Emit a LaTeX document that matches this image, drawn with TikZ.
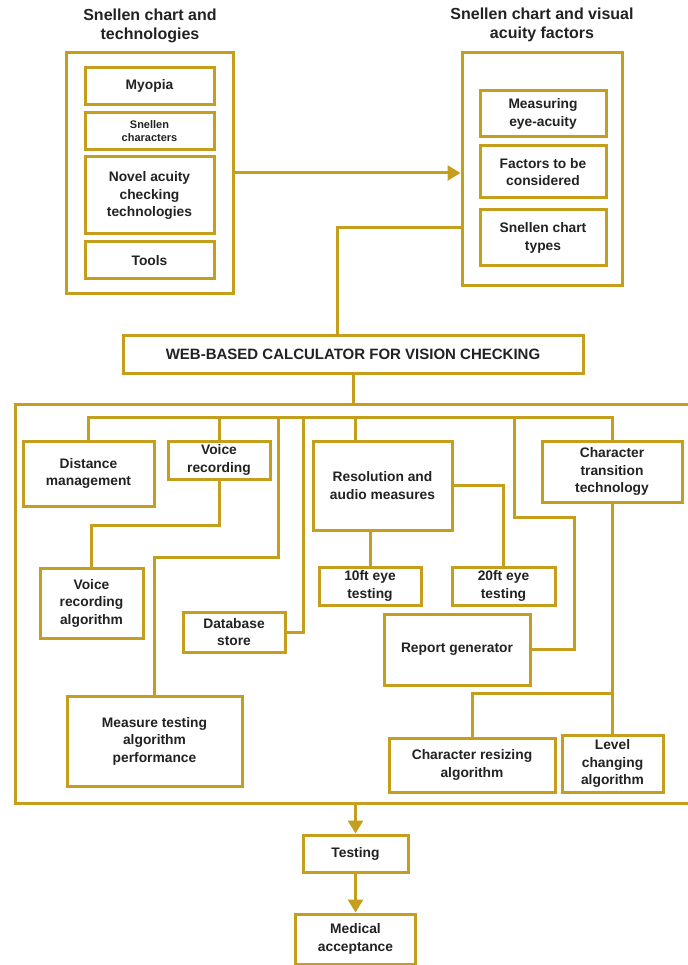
\documentclass[tikz,border=0pt]{standalone}
\usepackage{fontspec}
\setmainfont{Liberation Sans}
\usepackage{tikz}
\usetikzlibrary{positioning,arrows.meta,calc}
\definecolor{gold}{HTML}{C69E1E}
\definecolor{ink}{HTML}{222222}

\begin{document}
\begin{tikzpicture}[x=1pt,y=1pt,
    line width=3pt, draw=gold,
    box/.style={draw=gold,line width=3pt,fill=white,align=center,text=ink,inner sep=2pt,
      font=\fontsize{13.8}{17.5}\selectfont\bfseries},
    smallbox/.style={box,font=\fontsize{11}{13}\selectfont\bfseries},
    webbox/.style={box,font=\fontsize{15}{18}\selectfont\bfseries},
    grouptitle/.style={align=center,text=ink,font=\fontsize{16}{19}\selectfont\bfseries},
    frame/.style={draw=gold,line width=3pt},
    link/.style={gold,line width=3pt},
    arrowlink/.style={link,-{Triangle[length=13pt,width=15pt]}}]
  \useasboundingbox (0,0) rectangle (687,-965);

  % group frames and titles
  \node[frame,minimum width=167pt,minimum height=240pt] (lgroup) at (149.5,-173) {};
  \node[frame,minimum width=160pt,minimum height=232pt] (rgroup) at (542,-169) {};
  \node[frame,minimum width=677pt,minimum height=399pt] (main) at (353.5,-603.5) {};
  \node[grouptitle] (ltitle) at (150,-25.5) {Snellen chart and\\technologies};
  \node[grouptitle] (rtitle) at (542,-25) {Snellen chart and visual\\acuity factors};

  \foreach \n/\x/\y/\w/\h/\t in {
      myopia/149.5/86/129/37/{Myopia},
      novel/149.5/195.5/129/77/{Novel acuity\\checking\\technologies},
      tools/149.5/260.5/129/37/{Tools},
      measuring/543/114/126/46/{Measuring\\eye-acuity},
      factors/543/172/126/52/{Factors to be\\considered},
      types/543/238/126/56/{Snellen chart\\types},
      dist/88.5/473.5/131/65/{Distance\\management},
      voice/219/460/102/38/{Voice\\recording},
      vra/91.5/603/103/70/{Voice\\recording\\algorithm},
      db/234/632/102/40/{Database\\store},
      measure/154.5/741/175/90/{Measure testing\\algorithm\\performance},
      res/382.5/485.5/139/89/{Resolution and\\audio measures},
      f10/370/586/102/38/{10ft eye\\testing},
      f20/503.5/586/103/38/{20ft eye\\testing},
      ctt/612/471.5/140/61/{Character\\transition\\technology},
      report/457/649.5/146/71/{Report generator},
      resize/472/765/166/54/{Character resizing\\algorithm},
      level/612.5/763.5/101/57/{Level\\changing\\algorithm},
      testing/355.5/853.5/105/37/{Testing},
      medical/355.5/939/120/50/{Medical\\acceptance}}
    \node[box,minimum width=\w pt,minimum height=\h pt] (\n) at (\x,-\y) {\t};
  \node[smallbox,minimum width=129pt,minimum height=37pt] (snchar) at (149.5,-131.5) {Snellen\\characters};
  \node[webbox,minimum width=460pt,minimum height=38pt] (web) at (353,-354) {WEB-BASED CALCULATOR FOR VISION CHECKING};

  % top part
  \draw[arrowlink] (lgroup.east) -- (lgroup.east -| rgroup.west);
  \draw[link] ([yshift=-59pt]rgroup.west) -| ([xshift=-16pt]web.north);
  \draw[link] (web.south) -- (web.south |- main.north);

  % bus inside the main frame
  \coordinate (bus) at (0,-417);
  \coordinate (t1) at (278,-417);
  \coordinate (t2) at (303,-417);
  \coordinate (t3) at (514,-417);
  \draw[link] (dist.north) -- (dist.north |- bus) -- (ctt.north |- bus) -- (ctt.north);
  \draw[link] (voice.north) -- (voice.north |- bus);
  \draw[link] ([xshift=-27.5pt]res.north) -- ([xshift=-27.5pt]res.north |- bus);
  \draw[link] (voice.south) -- ++(0,-45) -| (vra.north);
  \draw[link] (t1) -- ++(0,-140) -| (measure.north);
  \draw[link] (t2) |- (db.east);
  \draw[link] (t3) -- ++(0,-100) -- ++(60,0) |- (report.east);
  \draw[link] (res.east) -| (f20.north);
  \draw[link] (f10.north) -- (f10.north |- res.south);
  \draw[link] (ctt.south) -- (ctt.south |- level.north);
  \draw[link] (resize.north) -- ++(0,43) -| (ctt.south);

  % bottom
  \draw[arrowlink] (testing.north |- main.south) -- (testing.north);
  \draw[arrowlink] (testing.south) -- (medical.north);
\end{tikzpicture}
\end{document}
